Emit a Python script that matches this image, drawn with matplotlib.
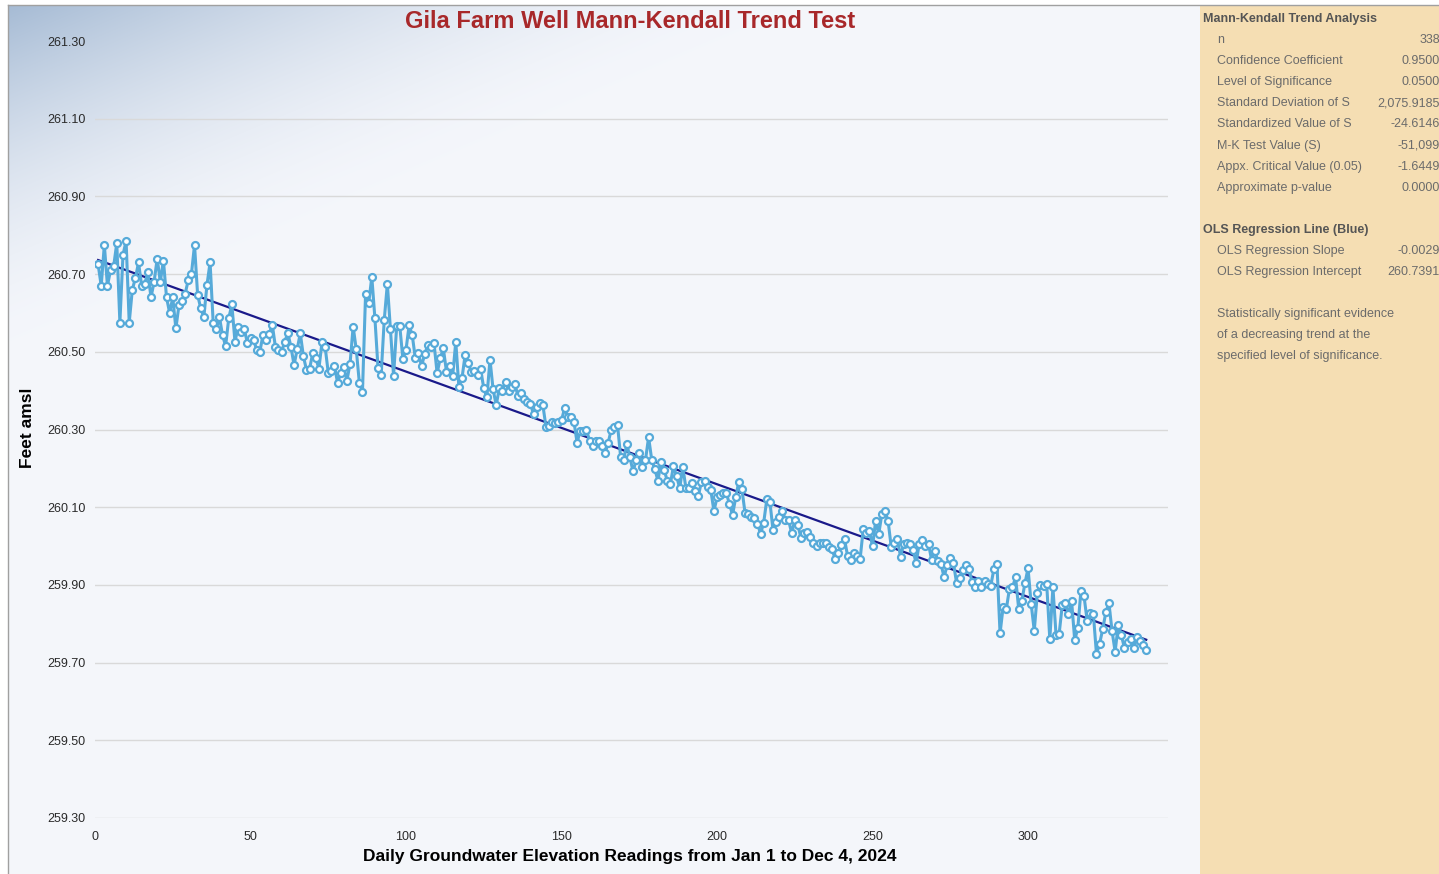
import matplotlib
matplotlib.use("Agg")
import matplotlib.pyplot as plt
import numpy as np

plt.rcParams["font.family"] = ["Liberation Sans", "DejaVu Sans"]

W, H = 1439, 874

# daily groundwater elevation (ft amsl)
elev = [
    260.725, 260.67, 260.775, 260.67, 260.71, 260.72, 260.78, 260.575, 260.75, 260.785,
    260.575, 260.66, 260.69, 260.73, 260.67, 260.675, 260.705, 260.64, 260.68, 260.74,
    260.68, 260.735, 260.64, 260.60, 260.64, 260.56, 260.62, 260.63, 260.65, 260.685,
    260.70, 260.775, 260.646, 260.612, 260.59, 260.672, 260.73, 260.575, 260.558, 260.59,
    260.543, 260.515, 260.586, 260.622, 260.526, 260.563, 260.552, 260.558, 260.523, 260.535,
    260.53, 260.505, 260.50, 260.543, 260.53, 260.546, 260.57, 260.513, 260.505, 260.50,
    260.526, 260.548, 260.513, 260.466, 260.506, 260.548, 260.489, 260.453, 260.457, 260.496,
    260.483, 260.457, 260.526, 260.512, 260.446, 260.451, 260.463, 260.42, 260.445, 260.46,
    260.426, 260.469, 260.565, 260.506, 260.42, 260.397, 260.65, 260.625, 260.693, 260.586,
    260.458, 260.44, 260.582, 260.675, 260.558, 260.438, 260.566, 260.566, 260.481, 260.505,
    260.569, 260.543, 260.483, 260.496, 260.463, 260.494, 260.517, 260.513, 260.522, 260.445,
    260.483, 260.509, 260.449, 260.463, 260.438, 260.526, 260.409, 260.432, 260.492, 260.47,
    260.449, 260.451, 260.44, 260.455, 260.406, 260.383, 260.48, 260.403, 260.363, 260.406,
    260.40, 260.423, 260.40, 260.41, 260.417, 260.386, 260.393, 260.378, 260.372, 260.366,
    260.34, 260.357, 260.369, 260.363, 260.307, 260.31, 260.32, 260.318, 260.32, 260.324,
    260.355, 260.333, 260.333, 260.32, 260.266, 260.297, 260.297, 260.30, 260.271, 260.258,
    260.271, 260.271, 260.258, 260.239, 260.266, 260.30, 260.307, 260.312, 260.23, 260.222,
    260.263, 260.228, 260.192, 260.222, 260.239, 260.203, 260.222, 260.28, 260.222, 260.198,
    260.168, 260.217, 260.196, 260.168, 260.16, 260.206, 260.18, 260.149, 260.203, 260.149,
    260.149, 260.163, 260.142, 260.129, 260.166, 260.168, 260.153, 260.144, 260.09, 260.125,
    260.131, 260.137, 260.136, 260.108, 260.08, 260.125, 260.166, 260.146, 260.086, 260.082,
    260.074, 260.071, 260.058, 260.031, 260.06, 260.12, 260.114, 260.041, 260.063, 260.074,
    260.09, 260.067, 260.067, 260.033, 260.067, 260.054, 260.02, 260.033, 260.037, 260.024,
    260.009, 259.999, 260.009, 260.007, 260.007, 259.998, 259.992, 259.966, 259.983, 260.003,
    260.017, 259.974, 259.964, 259.983, 259.974, 259.966, 260.043, 260.033, 260.04, 259.999,
    260.065, 260.031, 260.083, 260.091, 260.065, 259.998, 260.007, 260.017, 259.973, 260.005,
    260.007, 260.005, 259.99, 259.956, 260.005, 260.016, 259.999, 260.005, 259.964, 259.988,
    259.962, 259.954, 259.92, 259.951, 259.968, 259.957, 259.906, 259.917, 259.938, 259.951,
    259.94, 259.908, 259.895, 259.911, 259.895, 259.911, 259.902, 259.897, 259.94, 259.954,
    259.775, 259.844, 259.837, 259.889, 259.894, 259.92, 259.837, 259.859, 259.904, 259.943,
    259.851, 259.782, 259.88, 259.90, 259.897, 259.902, 259.76, 259.894, 259.771, 259.774,
    259.848, 259.853, 259.825, 259.859, 259.758, 259.788, 259.885, 259.871, 259.808, 259.827,
    259.825, 259.722, 259.748, 259.786, 259.829, 259.854, 259.782, 259.728, 259.797, 259.771,
    259.737, 259.754, 259.76, 259.737, 259.765, 259.756, 259.745, 259.733,
]
days = np.arange(1, len(elev) + 1)

ols_slope = -0.0029
ols_intercept = 260.7391

y_ticks = [259.30, 259.50, 259.70, 259.90, 260.10, 260.30, 260.50, 260.70, 260.90, 261.10, 261.30]
x_ticks = [0, 50, 100, 150, 200, 250, 300]

mk_labels = ["n", "Confidence Coefficient", "Level of Significance", "Standard Deviation of S",
             "Standardized Value of S", "M-K Test Value (S)", "Appx. Critical Value (0.05)",
             "Approximate p-value"]
mk_values = ["338", "0.9500", "0.0500", "2,075.9185", "-24.6146", "-51,099", "-1.6449", "0.0000"]
ols_labels = ["OLS Regression Slope", "OLS Regression Intercept"]
ols_values = ["-0.0029", "260.7391"]
note_lines = ["Statistically significant evidence", "of a decreasing trend at the",
              "specified level of significance."]


def fx(px):
    return px / W


def fy(py):
    return 1 - py / H


fig = plt.figure(figsize=(W / 100, H / 100), dpi=100)
fig.patch.set_facecolor("white")

# gradient background of the chart area
bg = fig.add_axes([fx(8), 0, fx(1200 - 8), fy(5)])
gx, gy = np.meshgrid(np.arange(1192), np.arange(869))
t = np.clip(1 - (gx / 800 + gy / 340), 0, 1) ** 1.7
corner = np.array([0.650, 0.733, 0.833])
base = np.array([0.957, 0.965, 0.984])
img = base + (corner - base) * t[..., None]
bg.imshow(img, aspect="auto", interpolation="bilinear")
bg.set_axis_off()
fig.add_artist(plt.Line2D([fx(8), fx(8)], [0, fy(5)], color="#a0a0a0", lw=1))
fig.add_artist(plt.Line2D([fx(8), 1], [fy(5), fy(5)], color="#a0a0a0", lw=1))

# side panel
panel = fig.add_axes([fx(1200), 0, fx(W - 1200), fy(5)])
panel.set_facecolor("#f5deb3")
panel.set_xticks([])
panel.set_yticks([])
for s in panel.spines.values():
    s.set_visible(False)

ax = fig.add_axes([fx(95), fy(818), fx(1168 - 95), fy(41) - fy(818)])
ax.set_facecolor("none")
ax.set_zorder(2)
ax.set_xlim(0, 345)
ax.set_ylim(259.30, 261.30)
ax.set_yticks(y_ticks)
ax.set_yticklabels([f"{v:.2f}" for v in y_ticks], fontsize=9, color="#2a2a2a", ha="left")
ax.set_xticks(x_ticks)
ax.set_xticklabels([str(v) for v in x_ticks], fontsize=9, color="#2a2a2a")
ax.tick_params(axis="y", length=0, pad=34)
ax.tick_params(axis="x", length=0, pad=9)
ax.grid(axis="y", color="#d9d9d9", lw=1)
ax.yaxis.get_gridlines()[-1].set_visible(False)
for s in ax.spines.values():
    s.set_visible(False)

trend = ols_intercept + ols_slope * days
ax.plot(days, trend, color="#1a1a8a", lw=1.6, zorder=3)
ax.plot(days, elev, color="#56aad9", lw=2.2, marker="o", markersize=5,
        markerfacecolor="white", markeredgecolor="#56aad9", markeredgewidth=1.6, zorder=4)

fig.text(fx(630), fy(21), "Gila Farm Well Mann-Kendall Trend Test", ha="center", va="center",
         fontsize=17, fontweight="bold", color="#a8282a")
fig.text(fx(630), fy(856), "Daily Groundwater Elevation Readings from Jan 1 to Dec 4, 2024",
         ha="center", va="center", fontsize=12.5, fontweight="bold", color="black")
fig.text(fx(28), fy(428), "Feet amsl", ha="center", va="center", rotation=90,
         fontsize=12.5, fontweight="bold", color="black")

# panel text
pfam = ["Liberation Sans Narrow", "Liberation Sans", "DejaVu Sans"]
fig.text(fx(1203), fy(19), "Mann-Kendall Trend Analysis", ha="left", va="center",
         fontsize=9, fontweight="bold", color="#555555", family=pfam)
for i, (lab, val) in enumerate(zip(mk_labels, mk_values)):
    y = 40 + i * 21.1
    fig.text(fx(1217), fy(y), lab, ha="left", va="center", fontsize=9, color="#6b6b6b", family=pfam)
    fig.text(fx(1440), fy(y), val, ha="right", va="center", fontsize=9, color="#6b6b6b", family=pfam)
fig.text(fx(1203), fy(230), "OLS Regression Line (Blue)", ha="left", va="center",
         fontsize=9, fontweight="bold", color="#555555", family=pfam)
for i, (lab, val) in enumerate(zip(ols_labels, ols_values)):
    y = 251 + i * 21
    fig.text(fx(1217), fy(y), lab, ha="left", va="center", fontsize=9, color="#6b6b6b", family=pfam)
    fig.text(fx(1440), fy(y), val, ha="right", va="center", fontsize=9, color="#6b6b6b", family=pfam)
for i, line in enumerate(note_lines):
    fig.text(fx(1217), fy(314 + i * 21), line, ha="left", va="center", fontsize=9,
             color="#6b6b6b", family=pfam)

fig.savefig("out.png", dpi=100)
